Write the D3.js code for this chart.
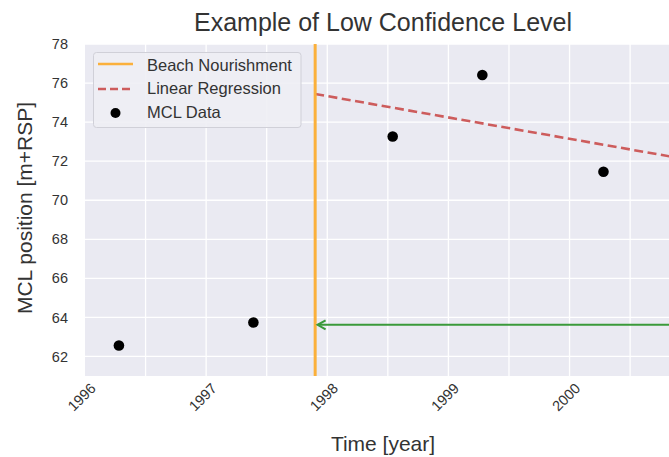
<!DOCTYPE html>
<html>
<head>
<meta charset="utf-8">
<script src="https://cdn.jsdelivr.net/npm/d3@7"></script>
<style>
  html, body { margin: 0; padding: 0; background: #fff; }
  svg { display: block; font-family: "Liberation Sans", Arial, sans-serif; }
</style>
</head>
<body>
<svg id="chart" width="669" height="457"></svg>
<script>
// MCL observations (decimal year, position in m+RSP)
const obsYears = [1996.28, 1997.39, 1998.54, 1999.28, 2000.28];
const obsValues = [62.56, 63.74, 73.26, 76.41, 71.46];

// Beach nourishment date (decimal year)
const nourishmentYear = [1997.9];

// Linear regression fitted after nourishment: endpoints
const regYears = [1997.9, 2000.95];
const regValues = [75.44, 72.11];

// Shift marker: drawn from the right edge back to the nourishment date
const arrowYears = [2000.95, 1997.92];
const arrowValues = [63.62, 63.62];

// Axis ticks
const xTickYears = [1996, 1997, 1998, 1999, 2000];
const xGridYears = [1996.5, 1997, 1997.5, 1998, 1998.5, 1999, 1999.5, 2000, 2000.5];
const yTicks = [62, 64, 66, 68, 70, 72, 74, 76, 78];

const svg = d3.select("#chart");
const margin = { left: 85, top: 44, right: 681, bottom: 376 };

const x = d3.scaleLinear().domain([1996, 2000.92]).range([margin.left, margin.right]);
const y = d3.scaleLinear().domain([61, 78]).range([margin.bottom, margin.top]);

const defs = svg.append("defs");
defs.append("clipPath").attr("id", "plotclip")
  .append("rect")
  .attr("x", margin.left).attr("y", margin.top)
  .attr("width", margin.right - margin.left)
  .attr("height", margin.bottom - margin.top);

// Plot background
svg.append("rect")
  .attr("x", margin.left).attr("y", margin.top)
  .attr("width", margin.right - margin.left)
  .attr("height", margin.bottom - margin.top)
  .attr("fill", "#eaeaf2");

// Grid
const grid = svg.append("g").attr("stroke", "#fff").attr("stroke-width", 1.3);
grid.selectAll("line.v").data(xGridYears).join("line")
  .attr("class", "v")
  .attr("x1", d => x(d)).attr("x2", d => x(d))
  .attr("y1", margin.top).attr("y2", margin.bottom);
grid.selectAll("line.h").data(yTicks).join("line")
  .attr("class", "h")
  .attr("x1", margin.left).attr("x2", margin.right)
  .attr("y1", d => y(d)).attr("y2", d => y(d));

// Y axis
const yAxis = svg.append("g")
  .attr("transform", `translate(${margin.left},0)`)
  .call(d3.axisLeft(y).tickValues(yTicks).tickSize(0).tickPadding(17).tickFormat(d3.format("d")));
yAxis.select(".domain").remove();
yAxis.selectAll("text").attr("font-size", 14.5).attr("fill", "#333").attr("font-family", "Liberation Sans, Arial, sans-serif");

// X axis with rotated year labels
const xAxis = svg.append("g")
  .attr("transform", `translate(0,${margin.bottom})`)
  .call(d3.axisBottom(x).tickValues(xTickYears).tickSize(0).tickPadding(0).tickFormat(d3.format("d")));
xAxis.select(".domain").remove();
xAxis.selectAll("text")
  .attr("font-size", 14.5).attr("fill", "#333")
  .attr("font-family", "Liberation Sans, Arial, sans-serif")
  .attr("text-anchor", "middle")
  .attr("dy", null).attr("y", null)
  .attr("transform", "translate(-3,22) rotate(-45)")
  .attr("dominant-baseline", "middle");

const plot = svg.append("g").attr("clip-path", "url(#plotclip)");

// Regression line
plot.append("path")
  .datum(d3.zip(regYears, regValues))
  .attr("fill", "none")
  .attr("stroke", "#cd5c5c")
  .attr("stroke-width", 2.6)
  .attr("stroke-dasharray", "9,4.5")
  .attr("d", d3.line().x(d => x(d[0])).y(d => y(d[1])));

// Nourishment marker
plot.selectAll("line.nour").data(nourishmentYear).join("line")
  .attr("class", "nour")
  .attr("x1", d => x(d)).attr("x2", d => x(d))
  .attr("y1", margin.top).attr("y2", margin.bottom)
  .attr("stroke", "#fbb03b").attr("stroke-width", 3);

// Arrow
const ax0 = x(arrowYears[0]), ax1 = x(arrowYears[1]);
const ay = y(arrowValues[1]);
plot.append("line")
  .attr("x1", ax0).attr("x2", ax1)
  .attr("y1", y(arrowValues[0])).attr("y2", ay)
  .attr("stroke", "#3a9a3a").attr("stroke-width", 2);
plot.append("path")
  .attr("d", `M${ax1 + 8},${ay - 4.5} L${ax1},${ay} L${ax1 + 8},${ay + 4.5}`)
  .attr("fill", "none").attr("stroke", "#3a9a3a").attr("stroke-width", 2);

// Observations
plot.selectAll("circle.obs").data(d3.zip(obsYears, obsValues)).join("circle")
  .attr("class", "obs")
  .attr("cx", d => x(d[0])).attr("cy", d => y(d[1]))
  .attr("r", 5.3).attr("fill", "#000");

// Legend
const lg = svg.append("g");
lg.append("rect")
  .attr("x", 93.5).attr("y", 52.5).attr("width", 207.5).attr("height", 75)
  .attr("rx", 3).attr("fill", "#eeeef4").attr("fill-opacity", 0.9)
  .attr("stroke", "#d0d0d8").attr("stroke-width", 1);
lg.append("line").attr("x1", 98).attr("x2", 133).attr("y1", 64).attr("y2", 64)
  .attr("stroke", "#fbb03b").attr("stroke-width", 2.5);
lg.append("line").attr("x1", 98).attr("x2", 133).attr("y1", 89).attr("y2", 89)
  .attr("stroke", "#cd5c5c").attr("stroke-width", 2.5).attr("stroke-dasharray", "8,4");
lg.append("circle").attr("cx", 115.5).attr("cy", 113).attr("r", 5).attr("fill", "#000");
const legendLabels = ["Beach Nourishment", "Linear Regression", "MCL Data"];
lg.selectAll("text").data(legendLabels).join("text")
  .attr("x", 147).attr("y", (d, i) => 65 + i * 23.5)
  .attr("dy", "0.35em")
  .attr("font-size", 16.5).attr("fill", "#333")
  .text(d => d);

// Title and axis labels
svg.append("text")
  .attr("x", 383).attr("y", 31)
  .attr("text-anchor", "middle")
  .attr("font-size", 25).attr("fill", "#333")
  .text("Example of Low Confidence Level");

svg.append("text")
  .attr("x", 383).attr("y", 451)
  .attr("text-anchor", "middle")
  .attr("font-size", 21).attr("fill", "#333")
  .text("Time [year]");

svg.append("text")
  .attr("transform", `translate(32,208) rotate(-90)`)
  .attr("text-anchor", "middle")
  .attr("font-size", 21).attr("fill", "#333")
  .text("MCL position [m+RSP]");
</script>
</body>
</html>
